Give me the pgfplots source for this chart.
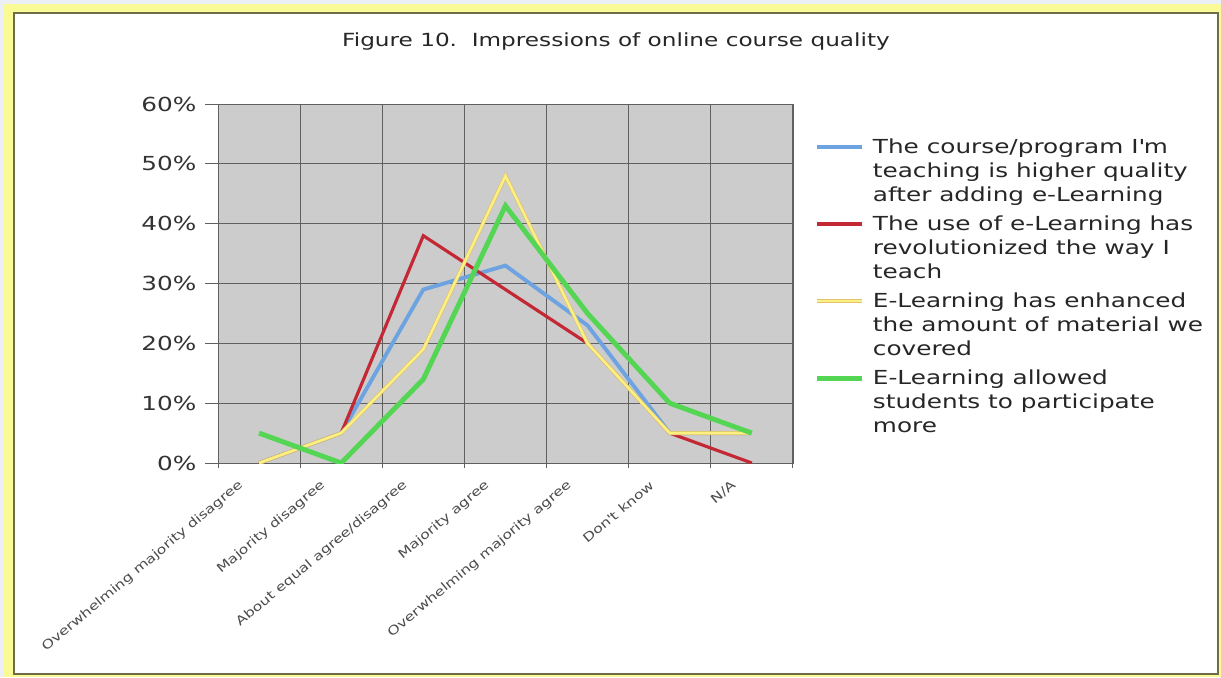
\documentclass[border=0pt]{standalone}
\usepackage{pgfplots}
\pgfplotsset{compat=1.18}
\usepackage{fontspec}
\setmainfont[FakeStretch=1.28]{DejaVu Sans}

\definecolor{sBlue}{RGB}{108,163,224}
\definecolor{sRed}{RGB}{196,40,52}
\definecolor{sYellow}{RGB}{252,240,130}
\definecolor{sYellowEdge}{RGB}{222,196,110}
\definecolor{sGreen}{RGB}{84,214,84}
\definecolor{plotbg}{RGB}{204,204,204}
\definecolor{gridc}{RGB}{96,96,96}
\definecolor{frameY}{RGB}{250,250,150}
\definecolor{frameD}{RGB}{110,110,70}
\definecolor{pageBg}{RGB}{236,239,245}

\begin{document}
\begin{tikzpicture}[x=0.02cm,y=0.02cm]
% 1 unit = 1 px of the reference, y measured from the bottom
\useasboundingbox (0,0) rectangle (1221,677);
\fill[pageBg] (0,0) rectangle (1221,677);
\fill[frameY] (4,0) rectangle (1221,673);
\draw[frameD, line width=1.2pt, fill=white] (14,3) rectangle (1218,664);
\node[font=\fontsize{10.3}{12}\selectfont, text=black!85] at (616,635)
  {Figure 10.\ \ Impressions of online course quality};
\coordinate (plotSW) at (218,214);

\begin{axis}[
    at={(plotSW)}, anchor=south west,
    scale only axis, width=11.5cm, height=7.18cm,
    xmin=-0.5, xmax=6.5, ymin=0, ymax=60,
    axis background/.style={fill=plotbg},
    axis line style={gridc},
    tick pos=left,
    xtick={-0.5,0.5,...,6.5},
    x tick label as interval,
    xticklabels={Overwhelming majority disagree,Majority disagree,About equal agree/disagree,Majority agree,Overwhelming majority agree,Don\textquotesingle t know,N/A},
    xticklabel style={rotate=40, anchor=east, xshift=-0.32cm, yshift=0.03cm,
      font=\fontsize{7}{8}\selectfont, text=black!70},
    ytick={0,10,...,60},
    yticklabels={0\%,10\%,20\%,30\%,40\%,50\%,60\%},
    yticklabel style={font=\fontsize{11}{13}\selectfont, text=black!80, xshift=-0.16cm},
    xmajorgrids, ymajorgrids,
    grid style={gridc, line width=0.5pt},
    tick align=outside,
    tick style={gridc, line width=0.5pt},
    ytick style={/pgfplots/major tick length=0.26cm},
    xtick style={/pgfplots/major tick length=0.1cm},
    legend style={at={(1.037,0.905)}, anchor=north west, draw=none, fill=none,
      inner sep=0pt, row sep=0.24cm, column sep=0.17cm,
      font=\fontsize{11}{13.6}\selectfont, text=black!85,
      nodes={anchor=base west, align=left, inner sep=0pt}},
    legend image code/.code={\draw[#1] (0cm,27.2pt+0.36em) -- (0.9cm,27.2pt+0.36em);},
  ]
\addplot[sBlue, line width=2.2pt] coordinates {(0,0)(1,5)(2,29)(3,33)(4,23)(5,5)(6,5)};
\addlegendentry{The course/program I\textquotesingle m\\teaching is higher quality\\after adding e-Learning}
\addplot[sRed, line width=1.8pt] coordinates {(0,0)(1,5)(2,38)(3,29)(4,20)(5,5)(6,0)};
\addlegendentry{The use of e-Learning has\\revolutionized the way I\\teach}
\addplot[sYellow, line width=1.4pt, preaction={draw, sYellowEdge, line width=2.2pt}]
  coordinates {(0,0)(1,5)(2,19)(3,48)(4,20)(5,5)(6,5)};
\addlegendentry{E-Learning has enhanced\\the amount of material we\\covered}
\addplot[sGreen, line width=2.8pt] coordinates {(0,5)(1,0)(2,14)(3,43)(4,25)(5,10)(6,5)};
\addlegendentry{E-Learning allowed\\students to participate\\more}
\end{axis}
\end{tikzpicture}
\end{document}
